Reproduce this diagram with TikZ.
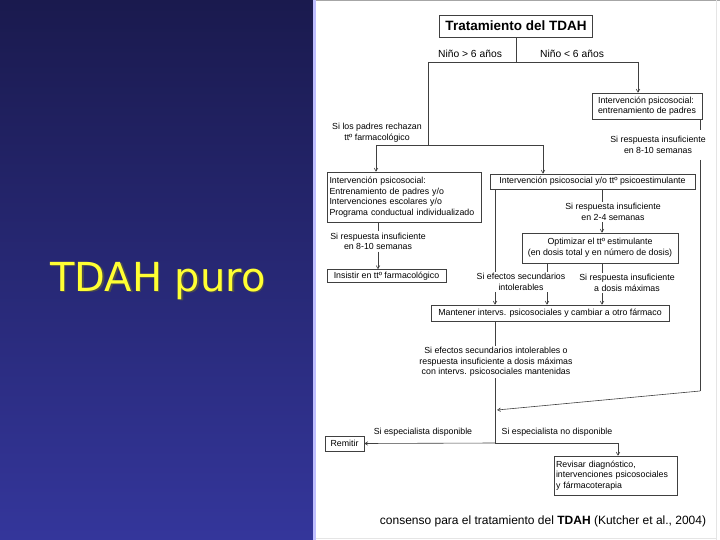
\documentclass[tikz,border=0pt]{standalone}
\usepackage{fontspec}
\setmainfont{Liberation Sans}
\newfontfamily\slidefont{DejaVu Sans}
\usetikzlibrary{arrows.meta}
\definecolor{slidetop}{RGB}{26,26,78}
\definecolor{slidebot}{RGB}{52,54,155}
\definecolor{slideyellow}{RGB}{255,255,51}

\begin{document}
\begin{tikzpicture}[x=1pt, y=-1pt,
  box/.style={draw=black!75, line width=0.6pt, fill=white, inner sep=2pt, font=\fontsize{8.8}{10.6}\selectfont},
  lbl/.style={align=center, inner sep=1.5pt, font=\fontsize{8.8}{10.6}\selectfont},
  link/.style={draw=black!75, line width=0.6pt},
  arr/.style={link, -{Straight Barb[length=3pt,width=3.5pt]}}
]
  \useasboundingbox (0,0) rectangle (720,540);

  % === SLIDE BACKGROUND ===
  \fill[top color=slidetop, bottom color=slidebot] (0,0) rectangle (314,540);
  \fill[blue!25!white] (313,0) rectangle (316,540);
  \fill[white] (316,0) rectangle (720,540);
  \draw[gray!70, line width=1pt] (316,0.5) -- (720,0.5);
  \draw[gray!20] (716.5,0) -- (716.5,540);
  \draw[gray!20] (316,538.5) -- (716.5,538.5);

  \node[font=\slidefont\fontsize{40}{48}\selectfont, text=black!70] (slideshadow) at (159.5,282.5) {TDAH puro};
  \node[font=\slidefont\fontsize{40}{48}\selectfont, text=slideyellow] (slidetitle) at (158,281) {TDAH puro};

  % === TOP: age split ===
  \node[box, font=\bfseries\fontsize{13.5}{15}\selectfont, minimum width=153pt, minimum height=22pt] (title) at (516,26) {Tratamiento del TDAH};
  \coordinate (oldturn) at (428,62);
  \coordinate (youngturn) at (638,62);
  \draw[link] (title.south) -- (title.south |- oldturn);
  \draw[link] (oldturn) -- (youngturn);
  \node[lbl, font=\fontsize{10.3}{12}\selectfont] (older) at (470,54) {Niño > 6 años};
  \node[lbl, font=\fontsize{10.3}{12}\selectfont] (younger) at (572,54) {Niño < 6 años};

  % Under 6: parent training first
  \node[box, align=left, minimum width=110pt, minimum height=26pt] (parents) at (647,106) {Intervención psicosocial:\\entrenamiento de padres};
  \draw[arr] (youngturn) -- (youngturn |- parents.north);
  \coordinate (retick) at (700,130);
  \coordinate (retop) at (700,160);
  \coordinate (recorner) at (700,391);
  \coordinate (rejoin) at (497,410);
  \node[lbl] (late) at (658,145) {Si respuesta insuficiente\\en 8-10 semanas};
  \draw[link] (parents.south -| retick) -- (retick);
  \draw[link] (retop) -- (recorner);
  \draw[arr] (recorner) -- (rejoin);

  % Over 6: fork
  \coordinate (fork) at (428,145);
  \coordinate (forkleft) at (376,145);
  \coordinate (forkright) at (543,145);
  \node[lbl] (refuse) at (377,133) {Si los padres rechazan\\ttº farmacológico};
  \draw[link] (oldturn) -- (fork);
  \draw[link] (forkleft) -- (forkright);

  % === LEFT BRANCH ===
  \node[box, align=left, text width=150pt, minimum height=50pt] (psyc) at (404.5,197) {Intervención psicosocial:\\Entrenamiento de padres y/o\\Intervenciones escolares y/o\\Programa conductual individualizado};
  \draw[arr] (forkleft) -- (forkleft |- psyc.north);
  \node[lbl] (slowleft) at (378,241.5) {Si respuesta insuficiente\\en 8-10 semanas};
  \node[box, minimum width=119pt, minimum height=13pt] (insist) at (386.5,276) {Insistir en ttº farmacológico};
  \draw[link] (psyc.south -| slowleft) -- (slowleft.north);
  \draw[arr] (slowleft.south) -- (insist.north -| slowleft);

  % === CENTRE BRANCH ===
  \node[box, minimum width=205pt, minimum height=15pt] (combo) at (592.5,181.5) {Intervención psicosocial y/o ttº psicoestimulante};
  \draw[arr] (forkright) -- (forkright |- combo.north);
  \node[box, align=center, minimum width=156pt, minimum height=30pt] (optim) at (600,248) {Optimizar el ttº estimulante\\(en dosis total y en número de dosis)};
  \node[lbl] (slow) at (613,212) {Si respuesta insuficiente\\en 2-4 semanas};
  \coordinate (stepx) at (602,0);
  \draw[link] (combo.south -| stepx) -- (slow.north -| stepx);
  \draw[arr] (slow.south -| stepx) -- (optim.north -| stepx);

  \node[box, minimum width=238pt, minimum height=16pt] (keep) at (550,313) {Mantener intervs. psicosociales y cambiar a otro fármaco};
  \node[lbl] (sidefx) at (521,282) {Si efectos secundarios\\intolerables};
  \node[lbl] (maxdose) at (627,283) {Si respuesta insuficiente\\a dosis máximas};
  \coordinate (mainline) at (495,0);
  \coordinate (fxline) at (547,0);
  \draw[link] (combo.south -| mainline) -- (sidefx.north -| mainline);
  \draw[arr] (sidefx.south -| mainline) -- (keep.north -| mainline);
  \draw[link] (optim.south -| fxline) -- (sidefx.north -| fxline);
  \draw[arr] (sidefx.south -| fxline) -- (keep.north -| fxline);
  \draw[link] (optim.south -| stepx) -- (maxdose.north -| stepx);
  \draw[arr] (maxdose.south -| stepx) -- (keep.north -| stepx);

  % === BOTTOM ===
  \node[lbl] (fail) at (496,362) {Si efectos secundarios intolerables o\\respuesta insuficiente a dosis máximas\\con intervs. psicosociales mantenidas};
  \coordinate (branch) at (495,443);
  \coordinate (branchright) at (618,443);
  \draw[link] (keep.south -| mainline) -- (fail.north -| mainline);
  \draw[link] (fail.south -| mainline) -- (branch);

  \node[box, minimum width=39pt, minimum height=15pt] (refer) at (344.5,443.5) {Remitir};
  \node[box, align=left, text width=119pt, minimum height=39pt] (review) at (615.5,475.5) {Revisar diagnóstico,\\intervenciones psicosociales\\y fármacoterapia};
  \draw[arr] (branch) -- (refer.east);
  \draw[link] (branch) -- (branchright);
  \draw[arr] (branchright) -- (review.north -| branchright);
  \node[lbl] (avail) at (423,432) {Si especialista disponible};
  \node[lbl] (unavail) at (557,432) {Si especialista no disponible};

  \node[font=\fontsize{12}{14}\selectfont] (source) at (543,521) {consenso para el tratamiento del \textbf{TDAH} (Kutcher et al., 2004)};
\end{tikzpicture}
\end{document}
